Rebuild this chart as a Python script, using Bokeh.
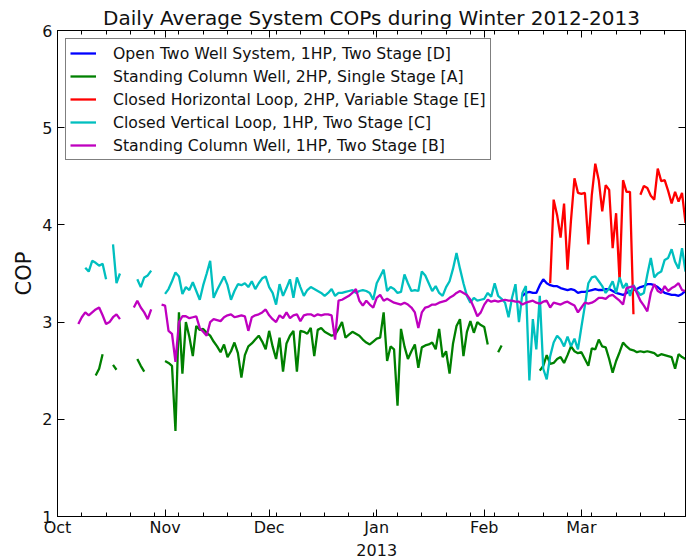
import numpy as np
import pandas as pd
from bokeh.plotting import figure
from bokeh.models import Range1d, LinearAxis, FixedTicker, Legend, LegendItem, Title
from bokeh.embed import file_html
from bokeh.resources import INLINE

# ---------------- data ----------------
title_text = "Daily Average System COPs during Winter 2012-2013"
x_start, x_end = "2012-10-01", "2013-03-31"
month_ticks = ["2012-10-01", "2012-11-01", "2012-12-01", "2013-01-01", "2013-02-01", "2013-03-01"]
month_labels = ["Oct", "Nov", "Dec", "Jan", "Feb", "Mar"]
year_label = "2013"
year_label_date = "2013-01-01"
y_ticks = [1, 2, 3, 4, 5, 6]

names = [
    "Open Two Well System, 1HP, Two Stage [D]",
    "Standing Column Well, 2HP, Single Stage [A]",
    "Closed Horizontal Loop, 2HP, Variable Stage [E]",
    "Closed Vertical Loop, 1HP, Two Stage [C]",
    "Standing Column Well, 1HP, Two Stage [B]",
]
colors = ["#0000ff", "#008000", "#ff0000", "#00bfbf", "#bf00bf"]

# [D] Open Two Well System (daily from 2013-02-12)
d_start = "2013-02-12"
d_cop = [3.27, 3.30, 3.31, 3.30, 3.30, 3.38, 3.44, 3.40, 3.38, 3.37,
         3.37, 3.35, 3.34, 3.33, 3.34, 3.33, 3.30, 3.31, 3.31, 3.32,
         3.33, 3.34, 3.33, 3.33, 3.34, 3.34, 3.32, 3.30, 3.29, 3.28,
         3.30, 3.32, 3.33, 3.34, 3.36, 3.37, 3.39, 3.39, 3.38, 3.36,
         3.33, 3.30, 3.29, 3.28, 3.28, 3.27, 3.29, 3.32]

# [A] Standing Column Well, 2HP (daily from 2012-10-12)
a_start = "2012-10-12"
a_cop = [2.45, 2.52, 2.67, None, None, 2.56, 2.51, None, None, None,
         None, None, 2.62, 2.55, 2.49, None, None, None, None, None,
         2.60, 2.58, 2.55, 1.88, 3.10, 2.47, 3.00, 2.85, 2.65, 2.96,
         2.92, 2.93, 2.89, 2.86, 2.80, 2.75, 2.69, 2.77, 2.64, 2.70,
         2.79, 2.68, 2.43, 2.66, 2.75, 2.78, 2.82, 2.86, 2.80, 2.72,
         2.91, 2.75, 2.62, 2.84, 2.49, 2.78, 2.86, 2.91, 2.49, 2.91,
         2.90, 2.88, 2.94, 2.65, 2.92, 2.94, 2.90, 2.88, 2.86, 2.87,
         2.93, 3.00, 2.84, 2.87, 2.90, 2.88, 2.86, 2.82, 2.79, 2.77,
         2.80, 2.83, 2.84, 3.10, 2.60, 2.75, 2.72, 2.14, 2.93, 2.75,
         2.62, 2.70, 2.77, 2.53, 2.74, 2.76, 2.77, 2.79, 2.72, 2.93,
         2.64, 2.70, 2.47, 2.78, 2.96, 3.03, 2.65, 2.90, 3.01, 2.89,
         3.00, 2.97, 2.95, 2.77, None, None, 2.69, 2.76, None, None,
         None, None, None, None, None, None, None, None, 2.50, 2.55,
         2.66, 2.57, 2.58, 2.62, 2.64, 2.58, 2.66, 2.75, 2.70, 2.68,
         2.69, 2.62, 2.55, 2.73, 2.72, 2.82, 2.75, 2.74, 2.62, 2.48,
         2.60, 2.69, 2.79, 2.75, 2.72, 2.71, 2.69, 2.70, 2.69, 2.70,
         2.69, 2.68, 2.65, 2.67, 2.66, 2.65, 2.64, 2.52, 2.67, 2.64,
         2.62]

# [E] Closed Horizontal Loop (daily from 2013-02-20)
e_start = "2013-02-20"
e_cop = [3.40, 4.26, 4.10, 3.87, 4.22, 3.54, 4.05, 4.48, 4.33, 4.32,
         4.33, 3.80, 4.31, 4.63, 4.46, 4.14, 4.41, 4.36, 3.76, 4.12,
         3.42, 4.46, 4.34, 4.34, 3.08, None, 4.31, 4.40, 4.38, 4.30,
         4.26, 4.58, 4.45, 4.46, 4.35, 4.22, 4.34, 4.24, 4.33, 4.02]

# [C] Closed Vertical Loop (daily from 2012-10-09)
c_start = "2012-10-09"
c_cop = [3.56, 3.52, 3.63, 3.61, 3.58, 3.60, 3.44, None, 3.80, 3.40,
         3.50, None, None, None, None, 3.44, 3.36, 3.46, 3.48, 3.53,
         None, None, None,
         3.29, 3.34, 3.42, 3.51, 3.47, 3.29, 3.36, 3.33, 3.41, 3.32,
         3.23, 3.38, 3.50, 3.63, 3.25, 3.33, 3.40, 3.47, 3.38, 3.23,
         3.32, 3.39, 3.38, 3.40, 3.36, 3.42, 3.34, 3.40, 3.45, 3.47,
         3.36, 3.30, 3.18, 3.39, 3.27, 3.35, 3.44, 3.25, 3.46, 3.36,
         3.27, 3.33, 3.36, 3.34, 3.32, 3.30, 3.27, 3.30, 3.34, 3.27,
         3.30, 3.30, 3.31, 3.32, 3.33, 3.30, 3.32, 3.33, 3.32, 3.30,
         3.23, 3.40, 3.47, 3.54, 3.32, 3.36, 3.34, 3.30, 3.31, 3.49,
         3.40, 3.32, 3.33, 3.32, 3.52, 3.48, 3.40, 3.32, 3.37, 3.30,
         3.27, 3.36, 3.42, 3.55, 3.71, 3.55, 3.40, 3.27, 3.20, 3.25,
         3.22, 3.23, 3.24, 3.30, 3.26, 3.40, 3.27, 3.24, 3.20, 3.05,
         3.25, 3.39, 3.00, 3.30, 3.37, 2.40, 3.03, 2.72, 3.27, 2.52,
         2.41, 2.65, 2.79, 2.86, 2.82, 2.75, 2.85, 2.75, 2.83, 2.72,
         2.95, 3.17, 3.40, 3.46, 3.47, 3.42, 3.37, 3.30, 3.35, 3.42,
         3.30, 3.46, 3.35, 3.40, 3.27, 3.38, 3.32, 3.28, 3.30, 3.49,
         3.66, 3.46, 3.50, 3.52, 3.64, 3.66, 3.75, 3.62, 3.55, 3.76,
         3.52]

# [B] Standing Column Well, 1HP (daily from 2012-10-07)
b_start = "2012-10-07"
b_cop = [2.98, 3.05, 3.10, 3.07, 3.10, 3.13, 3.15, 3.07, 2.98, 3.00,
         3.05, 3.08, 3.03, None, None, None, 3.15, 3.22, 3.15, 3.10,
         3.03, 3.13, None, None,
         3.18, 3.17, 2.91, 2.88, 2.59, 3.00, 3.06, 3.06, 3.04, 3.05, 3.06,
         2.94, 2.90, 2.86, 3.00, 3.03, 3.02, 3.01, 3.05, 3.07, 3.08,
         3.05, 3.06, 3.07, 3.06, 2.91, 3.05, 3.07, 3.08, 3.10, 3.13,
         3.07, 3.03, 3.00, 3.07, 3.04, 3.10, 3.04, 3.07, 3.08, 3.01,
         3.07, 3.08, 3.08, 3.06, 3.08, 3.07, 3.08, 3.08, 3.07, 2.82,
         3.22, 3.23, 3.25, 3.27, 3.30, 3.34, 3.22, 3.17, 3.22, 3.18,
         3.15, 3.25, 3.28, 3.22, 3.24, 3.22, 3.20, 3.19, 3.18, 3.20,
         3.18, 3.15, 3.10, 2.94, 3.10, 3.15, 3.16, 3.18, 3.18, 3.20,
         3.21, 3.22, 3.25, 3.27, 3.30, 3.32, 3.30, 3.28, 3.23, 3.15,
         3.06, 3.10, 3.18, 3.23, 3.21, 3.22, 3.21, 3.22, 3.23, 3.22,
         3.22, 3.21, 3.21, 3.18, 3.20, 3.21, 3.22, 3.20, 3.19, 3.21,
         3.22, 3.15, 3.20, 3.19, 3.18, 3.20, 3.21, 3.19, 3.17, 3.10,
         3.15, 3.20, 3.19, 3.20, 3.22, 3.25, 3.25, 3.24, 3.27, 3.28,
         3.25, 3.22, 3.18, 3.35, 3.36, 3.37, 3.30, 3.22, 3.17, 3.11,
         3.30, 3.39, 3.32, 3.30, 3.37, 3.32, 3.35, 3.37, 3.40, 3.33,
         3.32]

series = [(d_start, d_cop), (a_start, a_cop), (e_start, e_cop), (c_start, c_cop), (b_start, b_cop)]

# ---------------- figure ----------------
FONT = "DejaVu Sans"
INK = "#111111"
W, H = 686, 559
BL, BR, BT, BB = 57, 1, 30, 43

p = figure(width=W, height=H, x_axis_type="datetime",
           x_range=Range1d(pd.Timestamp(x_start), pd.Timestamp(x_end)),
           y_range=Range1d(1, 6),
           output_backend="svg", toolbar_location=None,
           min_border_left=BL, min_border_right=BR, min_border_top=BT, min_border_bottom=BB,
           background_fill_color="white", border_fill_color="white")
p.outline_line_color = "black"
p.xgrid.visible = False
p.ygrid.visible = False

p.title.text = title_text
p.title.align = "center"
p.title.text_font = FONT
p.title.text_font_size = "20px"
p.title.text_font_style = "normal"
p.title.text_color = INK
p.title.standoff = 2

def ms(s):
    return int(pd.Timestamp(s).value // 10**6)

major_ms = [ms(s) for s in month_ticks]
minor_ms = [int(t.value // 10**6) for t in pd.date_range(x_start, x_end, freq="7D")]

def style_axis(ax):
    ax.axis_line_color = "black"
    ax.axis_line_width = 1
    ax.major_tick_in = 7
    ax.major_tick_out = 0
    ax.minor_tick_in = 4
    ax.minor_tick_out = 0
    ax.major_tick_line_color = "black"
    ax.minor_tick_line_color = "black"
    ax.major_tick_line_width = 1
    ax.minor_tick_line_width = 1
    ax.major_label_text_font = FONT
    ax.major_label_text_font_size = "16px"
    ax.major_label_text_color = INK

xa = p.below[0]
xa.ticker = FixedTicker(ticks=major_ms, minor_ticks=minor_ms)
xa.major_label_overrides = {m: lab for m, lab in zip(major_ms, month_labels)}
style_axis(xa)
xa.major_label_standoff = 1

ya = p.left[0]
ya.ticker = FixedTicker(ticks=y_ticks, minor_ticks=[])
style_axis(ya)
ya.major_label_standoff = 5
ya.axis_label = "COP"
ya.axis_label_text_font = FONT
ya.axis_label_text_font_size = "21px"
ya.axis_label_text_font_style = "normal"
ya.axis_label_text_color = INK
ya.axis_label_standoff = 3

top = LinearAxis(ticker=FixedTicker(ticks=major_ms, minor_ticks=minor_ms))
style_axis(top)
top.major_label_text_font_size = "0px"
top.major_label_standoff = 0
top.major_label_overrides = {m: "" for m in major_ms}
p.add_layout(top, "above")

right = LinearAxis(ticker=FixedTicker(ticks=y_ticks, minor_ticks=[]))
style_axis(right)
right.major_label_text_font_size = "0px"
right.major_label_standoff = 0
right.major_label_overrides = {t: "" for t in y_ticks}
p.add_layout(right, "right")

items = []
for (start, vals), name, col in zip(series, names, colors):
    y = np.array(vals, dtype=float)
    x = pd.date_range(start, periods=len(y), freq="D")
    r = p.line(x, y, line_color=col, line_width=2.3)
    items.append(LegendItem(label=name, renderers=[r]))

legend = Legend(items=items, location="top_left")
legend.margin = 8
legend.padding = 4
legend.spacing = 3
legend.label_height = 20
legend.glyph_height = 20
legend.glyph_width = 26
legend.label_standoff = 17
legend.label_text_font = FONT
legend.label_text_font_size = "15.7px"
legend.label_text_color = INK
legend.border_line_color = "black"
legend.border_line_width = 1
legend.background_fill_color = "white"
legend.background_fill_alpha = 1
p.add_layout(legend, "center")

# year under the "Jan" tick: a left-aligned title below the axis, offset to Jan 1
frame_w = W - BL - BR
span = ms(x_end) - ms(x_start)
year_text_w = 0.636 * 16 * len(year_label)
jan_offset = (ms(year_label_date) - ms(x_start)) / span * frame_w - year_text_w / 2
year = Title(text=year_label, align="left", offset=jan_offset, standoff=4,
             text_font=FONT, text_font_size="16px", text_font_style="normal",
             text_color=INK)
p.add_layout(year, "below")

open("out.html", "w").write(file_html(p, INLINE))
